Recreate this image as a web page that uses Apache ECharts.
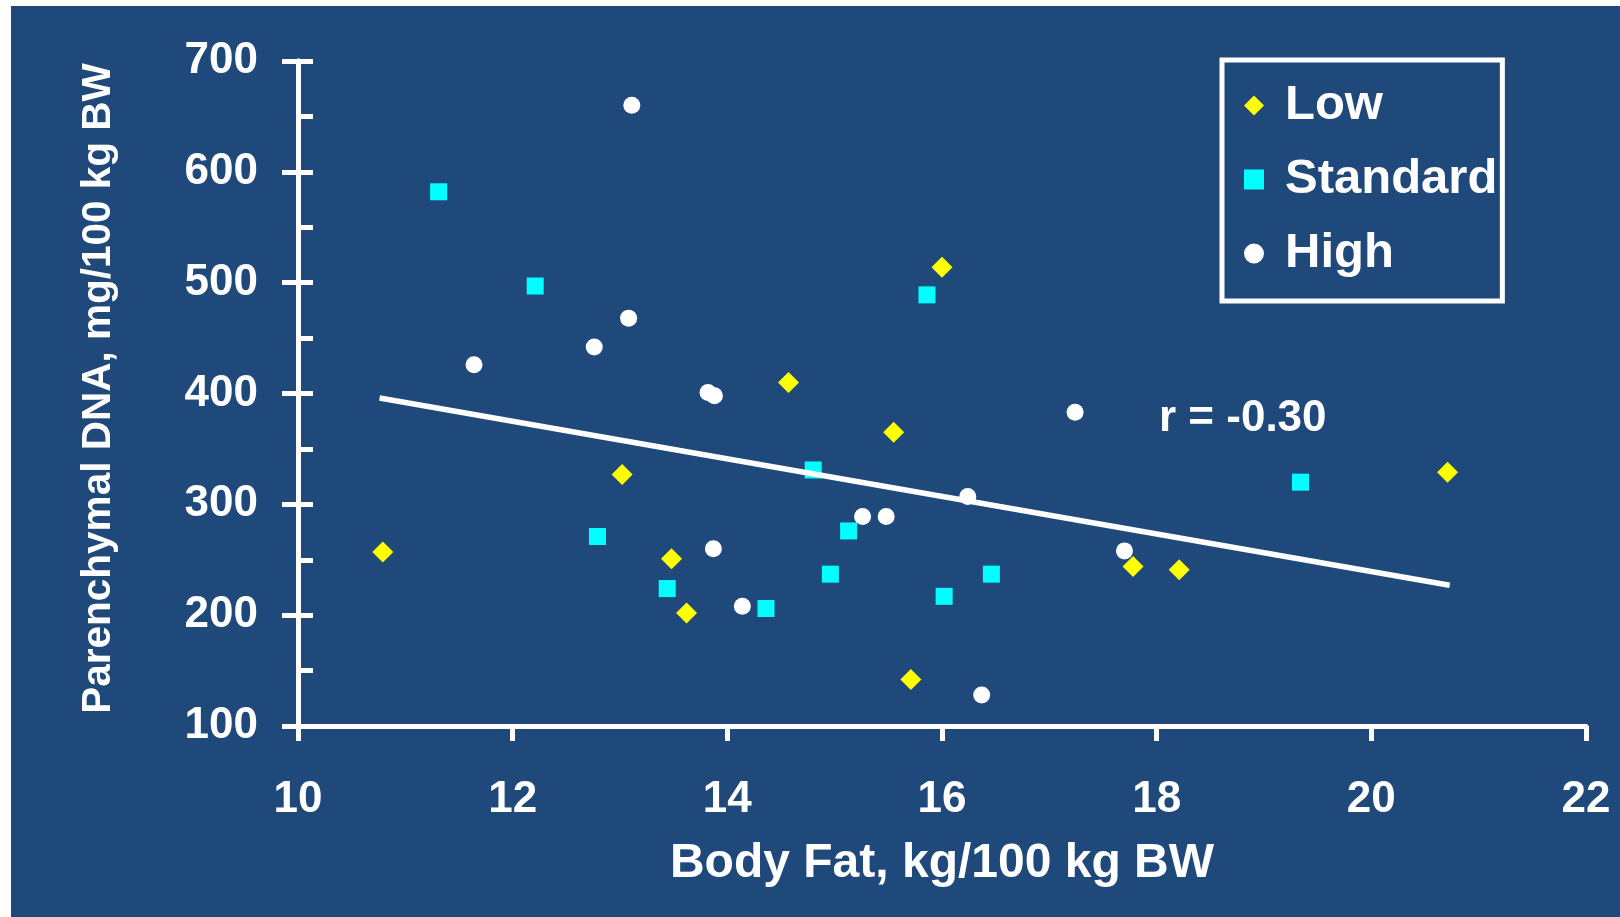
<!DOCTYPE html>
<html>
<head>
<meta charset="utf-8">
<script src="https://cdn.jsdelivr.net/npm/echarts@6/dist/echarts.min.js"></script>
<style>
	html, body { margin: 0; padding: 0; background: #ffffff; }
	#main { position: absolute; left: 11px; top: 6px; width: 1609px; height: 911px; }
</style>
</head>
<body>
<div id="main"></div>
<script>
// Low
var lowX = [10.79, 13.02, 13.48, 13.62, 14.57, 15.55, 16.00, 15.71, 17.78, 18.21, 20.71];
var lowY = [257, 327, 251, 202, 410, 365, 514, 142, 244, 241, 329];
// Standard
var stdX = [11.31, 12.21, 12.79, 13.44, 14.36, 14.80, 15.13, 14.96, 15.86, 16.02, 16.46, 19.34];
var stdY = [582, 497, 271, 224, 206, 331, 276, 237, 489, 217, 237, 320];
// High
var highX = [13.11, 13.08, 12.76, 11.64, 13.82, 13.88, 13.87, 14.14, 15.26, 15.48, 16.24, 16.37, 17.24, 17.70];
var highY = [660, 468, 442, 426, 401, 398, 260, 208, 289, 289, 307, 128, 383, 258];
// regression line end points
var trendX = [10.76, 20.73];
var trendY = [396, 227];

var seriesNames = ['Low', 'Standard', 'High'];
var rText = 'r = -0.30';

function pairs(xs, ys) {
	return xs.map(function (x, i) { return [x, ys[i]]; });
}

var chartDom = document.getElementById('main');
var myChart = echarts.init(chartDom);
var option;

var font = '"Liberation Sans", Arial, sans-serif';

option = {
	animation: false,
	backgroundColor: '#20497b',
	textStyle: { fontFamily: font },
	grid: {
		left: 287,
		top: 55,
		right: 34,
		bottom: 191
	},
	legend: {
		orient: 'vertical',
		left: 1211,
		top: 54,
		padding: [21, 5, 23, 22],
		itemGap: 25,
		itemWidth: 20,
		itemHeight: 20,
		borderColor: '#ffffff',
		borderWidth: 5,
		data: seriesNames,
		textStyle: {
			color: '#ffffff',
			fontSize: 49,
			fontWeight: 'bold',
			lineHeight: 48,
			fontFamily: font,
			padding: [0, 0, 0, 16]  // push text away from icon
		}
	},
	xAxis: {
		type: 'value',
		min: 10,
		max: 22,
		interval: 2,
		name: 'Body Fat, kg/100 kg BW',
		nameLocation: 'middle',
		nameGap: 114,
		nameTextStyle: { color: '#ffffff', fontSize: 48, fontWeight: 'bold', fontFamily: font },
		axisLine: { show: true, lineStyle: { color: '#ffffff', width: 5 } },
		axisTick: { show: true, inside: false, length: 15, lineStyle: { color: '#ffffff', width: 5 } },
		axisLabel: { color: '#ffffff', fontSize: 44, fontWeight: 'bold', margin: 52, fontFamily: font },
		splitLine: { show: false }
	},
	yAxis: [
		{
			type: 'value',
			min: 100,
			max: 700,
			interval: 100,
			name: 'Parenchymal DNA, mg/100 kg BW',
			nameLocation: 'middle',
			nameGap: 179,
			nameTextStyle: {
				color: '#ffffff',
				fontSize: 40.5,
				fontWeight: 'bold',
				fontFamily: font,
				padding: [0, 0, 0, 10]
			},
			axisLine: { show: true, lineStyle: { color: '#ffffff', width: 5 } },
			axisTick: { show: true, inside: false, length: 16, lineStyle: { color: '#ffffff', width: 5 } },
			axisLabel: { color: '#ffffff', fontSize: 44, fontWeight: 'bold', margin: 40, fontFamily: font },
			splitLine: { show: false }
		},
		{
			// inner ticks every 50
			type: 'value',
			position: 'left',
			min: 100,
			max: 700,
			interval: 50,
			axisLine: { show: true, lineStyle: { color: '#ffffff', width: 5 } },
			axisTick: { show: true, inside: true, length: 15, lineStyle: { color: '#ffffff', width: 5 } },
			axisLabel: { show: false },
			splitLine: { show: false }
		}
	],
	series: [
		{
			name: 'Low',
			type: 'scatter',
			symbol: 'diamond',
			symbolSize: 21,
			itemStyle: { color: '#ffff00', opacity: 1 },
			data: pairs(lowX, lowY)
		},
		{
			name: 'Standard',
			type: 'scatter',
			symbol: 'rect',
			symbolSize: 17,
			itemStyle: { color: '#00ffff', opacity: 1 },
			data: pairs(stdX, stdY)
		},
		{
			name: 'High',
			type: 'scatter',
			symbol: 'circle',
			symbolSize: 17,
			itemStyle: { color: '#ffffff', opacity: 1 },
			data: pairs(highX, highY)
		},
		{
			name: 'trend',
			type: 'line',
			z: 5,
			symbol: 'none',
			silent: true,
			lineStyle: { color: '#ffffff', width: 5.5 },
			data: pairs(trendX, trendY)
		}
	],
	graphic: [
		{
			type: 'text',
			left: 1148,
			top: 391,
			style: {
				text: rText,
				fill: '#ffffff',
				fontSize: 44,
				fontWeight: 'bold',
				fontFamily: font
			}
		}
	]
};

option && myChart.setOption(option);
</script>
</body>
</html>
